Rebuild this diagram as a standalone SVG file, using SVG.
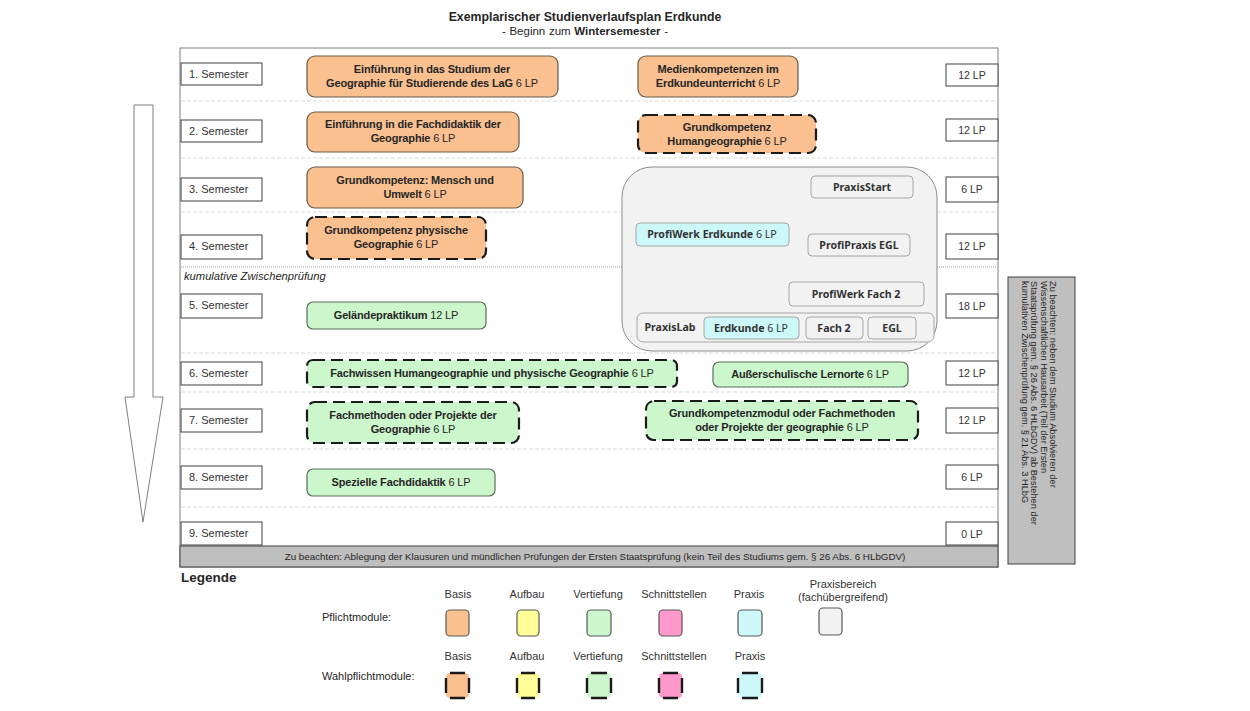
<svg xmlns="http://www.w3.org/2000/svg" width="1250" height="711" viewBox="0 0 1250 711">
<style>
text{font-family:"Liberation Sans",Arial,sans-serif;fill:#262626}
.sem{font-size:11px;fill:#333}
.lp{font-size:10.5px;text-anchor:middle;fill:#333}
.box{fill:#fff;stroke:#404040;stroke-width:1}
.mt{font-size:11px;font-weight:bold;text-anchor:middle;letter-spacing:-0.15px;fill:#262626}
.mt tspan.n{font-weight:normal}
.or{fill:#fac090;stroke:#6b5a48;stroke-width:1.2}
.gr{fill:#ccf7cc;stroke:#5a6e5a;stroke-width:1.2}
.dash{stroke:#1a1a1a;stroke-width:2.2;stroke-dasharray:12 6}
.sep{stroke:#d9d9d9;stroke-width:1;stroke-dasharray:4 2}
.pt{font-family:"Noto Sans","DejaVu Sans",sans-serif;font-size:10.6px;font-weight:bold;text-anchor:middle;fill:#333}
.pb{fill:#f2f2f2;stroke:#a6a6a6;stroke-width:1}
.pc{fill:#ccf8fa;stroke:#a6a6a6;stroke-width:1}
.lg{font-size:11px;text-anchor:middle;fill:#333}
.dl{stroke:#1a1a1a;stroke-width:2.4}
</style>

<g id="title">
<text x="585" y="21" font-size="12.3" font-weight="bold" text-anchor="middle">Exemplarischer Studienverlaufsplan Erdkunde</text>
<text x="585" y="35" font-size="11.5" word-spacing="0.5" text-anchor="middle">- Beginn zum <tspan font-weight="bold">Wintersemester</tspan> -</text>
</g>

<g id="frame">
<rect x="180" y="48" width="818" height="519" fill="#fff" stroke="#7f7f7f" stroke-width="1"/>
<line class="sep" x1="181" y1="101" x2="997" y2="101"/>
<line class="sep" x1="181" y1="158" x2="997" y2="158"/>
<line class="sep" x1="181" y1="212" x2="997" y2="212"/>
<line x1="181" y1="267" x2="997" y2="267" stroke="#999" stroke-width="1" stroke-dasharray="1 1"/>
<line class="sep" x1="181" y1="353" x2="997" y2="353"/>
<line class="sep" x1="181" y1="392" x2="997" y2="392"/>
<line class="sep" x1="181" y1="449" x2="997" y2="449"/>
<line class="sep" x1="181" y1="507" x2="997" y2="507"/>
<text x="184" y="280" font-size="11.2" font-style="italic" fill="#333">kumulative Zwischenprüfung</text>
</g>

<g id="arrow">
<polygon points="134,105 153,105 153,397 163,397 143,522 125,397 134,397" fill="#fff" stroke="#7f7f7f" stroke-width="1"/>
</g>

<g id="semesters">
<rect class="box" x="181" y="63" width="81" height="22"/><text class="sem" x="189" y="78">1. Semester</text>
<rect class="box" x="181" y="120" width="81" height="22"/><text class="sem" x="189" y="135">2. Semester</text>
<rect class="box" x="181" y="178" width="81" height="23"/><text class="sem" x="189" y="193">3. Semester</text>
<rect class="box" x="181" y="235" width="81" height="24"/><text class="sem" x="189" y="250">4. Semester</text>
<rect class="box" x="181" y="294" width="81" height="24"/><text class="sem" x="189" y="309">5. Semester</text>
<rect class="box" x="181" y="362" width="81" height="23"/><text class="sem" x="189" y="377">6. Semester</text>
<rect class="box" x="181" y="409" width="81" height="23"/><text class="sem" x="189" y="424">7. Semester</text>
<rect class="box" x="181" y="466" width="81" height="23"/><text class="sem" x="189" y="481">8. Semester</text>
<rect class="box" x="181" y="522" width="81" height="23"/><text class="sem" x="189" y="537">9. Semester</text>
</g>

<g id="lp">
<rect class="box" x="946" y="64" width="52" height="22"/><text class="lp" x="972" y="79">12 LP</text>
<rect class="box" x="946" y="119" width="52" height="22"/><text class="lp" x="972" y="134">12 LP</text>
<rect class="box" x="946" y="177" width="52" height="25"/><text class="lp" x="972" y="193">6 LP</text>
<rect class="box" x="946" y="234" width="52" height="25"/><text class="lp" x="972" y="250">12 LP</text>
<rect class="box" x="946" y="294" width="52" height="24"/><text class="lp" x="972" y="310">18 LP</text>
<rect class="box" x="946" y="361" width="52" height="24"/><text class="lp" x="972" y="377">12 LP</text>
<rect class="box" x="946" y="408" width="52" height="25"/><text class="lp" x="972" y="424">12 LP</text>
<rect class="box" x="946" y="465" width="52" height="24"/><text class="lp" x="972" y="481">6 LP</text>
<rect class="box" x="946" y="522" width="52" height="23"/><text class="lp" x="972" y="538">0 LP</text>
</g>

<g id="bottom-note">
<rect x="180" y="546" width="818" height="21" fill="#bfbfbf" stroke="#404040" stroke-width="1"/>
<text x="595" y="560" font-size="9.8" text-anchor="middle" fill="#262626">Zu beachten: Ablegung der Klausuren und mündlichen Prüfungen der Ersten Staatsprüfung (kein Teil des Studiums gem. § 26 Abs. 6 HLbGDV)</text>
</g>

<g id="m1"><rect class="or" x="307" y="56" width="251" height="41" rx="8"/>
<text class="mt" x="432" y="73">Einführung in das Studium der</text>
<text class="mt" x="432" y="87">Geographie für Studierende des LaG <tspan class="n">6 LP</tspan></text></g>

<g id="m2"><rect class="or" x="638" y="56" width="160" height="41" rx="8"/>
<text class="mt" x="718" y="73">Medienkompetenzen im</text>
<text class="mt" x="718" y="87">Erdkundeunterricht <tspan class="n">6 LP</tspan></text></g>

<g id="m3"><rect class="or" x="307" y="112" width="212" height="40" rx="8"/>
<text class="mt" x="413" y="128">Einführung in die Fachdidaktik der</text>
<text class="mt" x="413" y="142">Geographie <tspan class="n">6 LP</tspan></text></g>

<g id="m4"><rect class="or dash" x="638" y="115" width="178" height="38" rx="8"/>
<text class="mt" x="727" y="131">Grundkompetenz</text>
<text class="mt" x="727" y="145">Humangeographie <tspan class="n">6 LP</tspan></text></g>

<g id="m5"><rect class="or" x="307" y="167" width="216" height="41" rx="8"/>
<text class="mt" x="415" y="184">Grundkompetenz: Mensch und</text>
<text class="mt" x="415" y="198">Umwelt <tspan class="n">6 LP</tspan></text></g>

<g id="m6"><rect class="or dash" x="307" y="217" width="179" height="42" rx="8"/>
<text class="mt" x="396" y="234">Grundkompetenz physische</text>
<text class="mt" x="396" y="248">Geographie <tspan class="n">6 LP</tspan></text></g>

<g id="m7"><rect class="gr" x="307" y="302" width="179" height="27" rx="6"/>
<text class="mt" x="396" y="319">Geländepraktikum <tspan class="n">12 LP</tspan></text></g>

<g id="m8"><rect class="gr dash" x="307" y="360" width="370" height="27" rx="6"/>
<text class="mt" x="492" y="377">Fachwissen Humangeographie und physische Geographie <tspan class="n">6 LP</tspan></text></g>

<g id="m9"><rect class="gr" x="713" y="362" width="195" height="25" rx="6"/>
<text class="mt" x="810" y="378">Außerschulische Lernorte <tspan class="n">6 LP</tspan></text></g>

<g id="m10"><rect class="gr dash" x="307" y="402" width="212" height="41" rx="8"/>
<text class="mt" x="413" y="419">Fachmethoden oder Projekte der</text>
<text class="mt" x="413" y="433">Geographie <tspan class="n">6 LP</tspan></text></g>

<g id="m11"><rect class="gr dash" x="646" y="401" width="272" height="39" rx="8"/>
<text class="mt" x="782" y="417">Grundkompetenzmodul oder Fachmethoden</text>
<text class="mt" x="782" y="431">oder Projekte der geographie <tspan class="n">6 LP</tspan></text></g>

<g id="m12"><rect class="gr" x="307" y="469" width="188" height="27" rx="6"/>
<text class="mt" x="401" y="486">Spezielle Fachdidaktik <tspan class="n">6 LP</tspan></text></g>

<g id="praxis">
<rect x="622" y="167" width="315" height="184" rx="30" fill="#f2f2f2" stroke="#8c8c8c" stroke-width="1"/>
<g id="praxisstart"><rect class="pb" x="811" y="176" width="102" height="22" rx="4"/><text class="pt" x="862" y="191">PraxisStart</text></g>
<g id="profiwerk-erdkunde"><rect class="pc" x="636" y="223" width="153" height="23" rx="4"/><text class="pt" x="712" y="238">ProfiWerk Erdkunde <tspan font-weight="normal">6 LP</tspan></text></g>
<g id="profipraxis"><rect class="pb" x="808" y="234" width="102" height="22" rx="4"/><text class="pt" x="859" y="249">ProfiPraxis EGL</text></g>
<g id="profiwerk-fach2"><rect class="pb" x="789" y="282" width="135" height="24" rx="4"/><text class="pt" x="856" y="298">ProfiWerk Fach 2</text></g>
<g id="praxislab"><rect class="pb" x="637" y="313" width="297" height="29" rx="6"/>
<text class="pt" x="670" y="331">PraxisLab</text>
<rect class="pc" x="704" y="317" width="95" height="22" rx="4"/><text class="pt" x="751" y="332">Erdkunde <tspan font-weight="normal">6 LP</tspan></text>
<rect class="pb" x="806" y="317" width="57" height="22" rx="4"/><text class="pt" x="834" y="332">Fach 2</text>
<rect class="pb" x="868" y="317" width="48" height="22" rx="4"/><text class="pt" x="892" y="332">EGL</text></g>
</g>

<g id="side-note">
<rect x="1008" y="277" width="67" height="287" fill="#bfbfbf" stroke="#404040" stroke-width="1"/>
<text transform="translate(1050,281) rotate(90)" font-size="9.3" fill="#262626">
<tspan x="0" y="0">Zu beachten: neben dem Studium Absolvieren der</tspan>
<tspan x="0" y="9.5">Wissenschaftlichen Hausarbeit (Teil der Ersten</tspan>
<tspan x="0" y="19">Staatsprüfung gem. § 26 Abs. 6 HLbGDV) ab Bestehen der</tspan>
<tspan x="0" y="28.5">kumulativen Zwischenprüfung gem. § 21 Abs. 3 HLbG</tspan>
</text>
</g>

<g id="legend">
<text x="181" y="582" font-size="13.5" font-weight="bold" fill="#1a1a1a">Legende</text>
<text x="322" y="621" font-size="11" fill="#333">Pflichtmodule:</text>
<text x="322" y="680" font-size="11" fill="#333">Wahlpflichtmodule:</text>
<text class="lg" x="458" y="598">Basis</text>
<text class="lg" x="527" y="598">Aufbau</text>
<text class="lg" x="598" y="598">Vertiefung</text>
<text class="lg" x="674" y="598">Schnittstellen</text>
<text class="lg" x="749" y="598">Praxis</text>
<text class="lg" x="843" y="588">Praxisbereich</text>
<text class="lg" x="843" y="601">(fachübergreifend)</text>
<rect x="446" y="610" width="23" height="26" rx="4" fill="#fac090" stroke="#595959" stroke-width="1.2"/>
<rect x="517" y="610" width="22" height="26" rx="4" fill="#ffff99" stroke="#595959" stroke-width="1.2"/>
<rect x="587" y="610" width="24" height="26" rx="4" fill="#ccf7cc" stroke="#595959" stroke-width="1.2"/>
<rect x="659" y="610" width="23" height="26" rx="4" fill="#ff99cc" stroke="#595959" stroke-width="1.2"/>
<rect x="738" y="610" width="24" height="26" rx="4" fill="#ccf8fa" stroke="#595959" stroke-width="1.2"/>
<rect x="819" y="608" width="23" height="27" rx="4" fill="#f2f2f2" stroke="#595959" stroke-width="1.2"/>
<text class="lg" x="458" y="660">Basis</text>
<text class="lg" x="527" y="660">Aufbau</text>
<text class="lg" x="598" y="660">Vertiefung</text>
<text class="lg" x="674" y="660">Schnittstellen</text>
<text class="lg" x="750" y="660">Praxis</text>
<rect x="446" y="673" width="23" height="25" rx="4" fill="#fac090"/>
<rect x="517" y="673" width="22" height="25" rx="4" fill="#ffff99"/>
<rect x="587" y="673" width="24" height="25" rx="4" fill="#ccf7cc"/>
<rect x="659" y="673" width="23" height="25" rx="4" fill="#ff99cc"/>
<rect x="738" y="673" width="24" height="25" rx="4" fill="#ccf8fa"/>
<path class="dl" d="M450,673h15M450,698h15M446,678v15M469,678v15
M521,673h14M521,698h14M517,678v15M539,678v15
M591,673h16M591,698h16M587,678v15M611,678v15
M663,673h15M663,698h15M659,678v15M682,678v15
M742,673h16M742,698h16M738,678v15M762,678v15"/>
</g>
</svg>
